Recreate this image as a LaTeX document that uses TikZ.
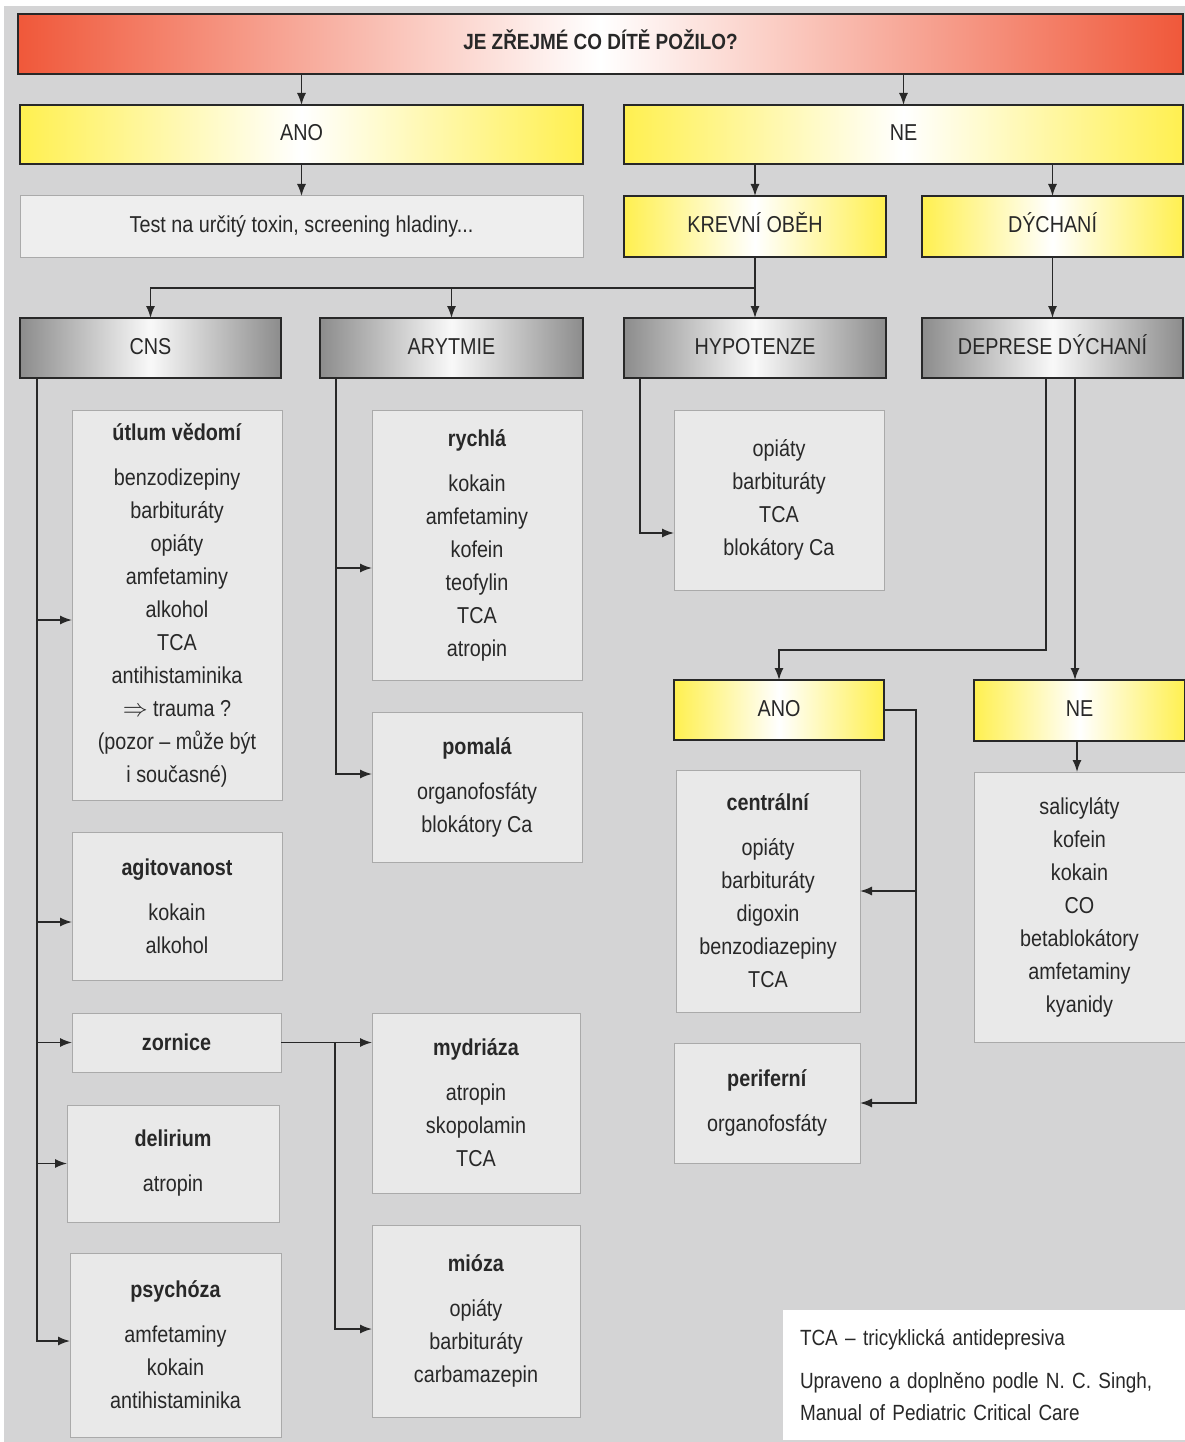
\documentclass[tikz,border=0pt]{standalone}
\usepackage{fontspec}
\setmainfont{Liberation Sans}[FakeStretch=0.86]
\usetikzlibrary{arrows.meta}
\definecolor{bg}{RGB}{212,212,213}
\definecolor{listfill}{RGB}{233,233,233}
\definecolor{testfill}{RGB}{238,238,238}
\definecolor{listdraw}{RGB}{170,170,170}
\definecolor{ink}{RGB}{40,40,40}
\definecolor{redE}{RGB}{240,88,58}
\definecolor{yelE}{RGB}{255,240,80}
\definecolor{grayE}{RGB}{140,140,140}
\begin{document}
\begin{tikzpicture}[x=1pt,y=-1pt,
  base/.style={inner sep=0pt,outer sep=0pt,align=center,text=ink,
    font=\fontsize{23}{33}\selectfont},
  hdr/.style={base,draw=ink,line width=1.4pt,text height=17pt,text depth=5pt},
  redbox/.style={hdr,left color=redE,right color=redE,middle color=white,
    font=\fontsize{22}{30}\selectfont\bfseries},
  yelbox/.style={hdr,left color=yelE,right color=yelE,middle color=white},
  graybox/.style={hdr,left color=grayE,right color=grayE,middle color=white!95!gray},
  listbox/.style={base,draw=listdraw,line width=1pt,fill=listfill},
  arr/.style={draw=ink,line width=1.5pt,-{Latex[length=12pt,width=9pt]}},
  ln/.style={draw=ink,line width=1.5pt}]
\useasboundingbox (0,0) rectangle (1185,1442);
\fill[white] (0,0) rectangle (1185,1442);
\fill[bg] (4,6) rectangle (1185,1442);

% top
\node[redbox,minimum width=1165,minimum height=60] (top) at (600.5,44) {JE ZŘEJMÉ CO DÍTĚ POŽILO?};
\node[yelbox,minimum width=563,minimum height=59] (ano) at (301.5,134.5) {ANO};
\node[yelbox,minimum width=559,minimum height=59] (ne) at (903.5,134.5) {NE};
\node[listbox,fill=testfill,minimum width=563,minimum height=61] (test) at (301.5,226.5) {Test na určitý toxin, screening hladiny...};
\node[yelbox,minimum width=262,minimum height=61] (krev) at (755,226.5) {KREVNÍ OBĚH};
\node[yelbox,minimum width=261,minimum height=61] (dych) at (1052.5,226.5) {DÝCHANÍ};

\node[graybox,minimum width=261,minimum height=60] (cns) at (150.5,348) {CNS};
\node[graybox,minimum width=263,minimum height=60] (aryt) at (451.5,348) {ARYTMIE};
\node[graybox,minimum width=262,minimum height=60] (hypo) at (755,348) {HYPOTENZE};
\node[graybox,minimum width=261,minimum height=60] (depr) at (1052.5,348) {DEPRESE DÝCHANÍ};

% CNS column
\node[listbox,minimum width=210,minimum height=390] (utlum) at (177,605)
 {\textbf{útlum vědomí}\\[12pt]benzodizepiny\\barbituráty\\opiáty\\amfetaminy\\alkohol\\TCA\\antihistaminika\\$\Rightarrow$ trauma ?\\(pozor – může být\\i současné)};
\node[listbox,minimum width=210,minimum height=148] (agit) at (177,906)
 {\textbf{agitovanost}\\[12pt]kokain\\alkohol};
\node[listbox,minimum width=209,minimum height=59] (zorn) at (176.5,1042.5) {\textbf{zornice}};
\node[listbox,minimum width=212,minimum height=117] (deli) at (173,1163.5)
 {\textbf{delirium}\\[12pt]atropin};
\node[listbox,minimum width=211,minimum height=184] (psych) at (175.5,1345)
 {\textbf{psychóza}\\[12pt]amfetaminy\\kokain\\antihistaminika};

% ARYTMIE column
\node[listbox,minimum width=210,minimum height=270] (rych) at (477,545)
 {\textbf{rychlá}\\[12pt]kokain\\amfetaminy\\kofein\\teofylin\\TCA\\atropin};
\node[listbox,minimum width=210,minimum height=150] (pom) at (477,787)
 {\textbf{pomalá}\\[12pt]organofosfáty\\blokátory Ca};
\node[listbox,minimum width=208,minimum height=180] (mydr) at (476,1103)
 {\textbf{mydriáza}\\[12pt]atropin\\skopolamin\\TCA};
\node[listbox,minimum width=208,minimum height=192] (mioz) at (476,1321)
 {\textbf{mióza}\\[12pt]opiáty\\barbituráty\\carbamazepin};

% HYPOTENZE / DEPRESE
\node[listbox,minimum width=210,minimum height=180] (hypl) at (779,500)
 {opiáty\\barbituráty\\TCA\\blokátory Ca};
\node[yelbox,minimum width=210,minimum height=60] (ano2) at (779,710) {ANO};
\node[yelbox,minimum width=211,minimum height=61] (ne2) at (1079.5,710.5) {NE};
\node[listbox,minimum width=184,minimum height=242] (centr) at (768,891)
 {\textbf{centrální}\\[12pt]opiáty\\barbituráty\\digoxin\\benzodiazepiny\\TCA};
\node[listbox,minimum width=186,minimum height=120] (perif) at (767,1103)
 {\textbf{periferní}\\[12pt]organofosfáty};
\node[listbox,minimum width=211,minimum height=270] (nel) at (1079.5,907)
 {salicyláty\\kofein\\kokain\\CO\\betablokátory\\amfetaminy\\kyanidy};

% legend
\node[base,fill=white,minimum width=402,minimum height=130,text width=368,align=left,
  font=\fontsize{22}{32}\selectfont] (leg) at (984,1375)
 {TCA – tricyklická antidepresiva\\[11pt]Upraveno a doplněno podle N. C. Singh,\\Manual of Pediatric Critical Care};

% connectors
\draw[arr] (ano.north |- top.south) -- (ano.north);
\draw[arr] (ne.north |- top.south) -- (ne.north);
\draw[arr] (ano.south) -- (test.north);
\draw[arr] (krev.north |- ne.south) -- (krev.north);
\draw[arr] (dych.north |- ne.south) -- (dych.north);
\draw[arr] (krev.south) -- ++(0,31) -| (cns.north);
\draw[arr] (krev.south) -- ++(0,31) -| (aryt.north);
\draw[arr] (krev.south) -- (hypo.north);
\draw[arr] (dych.south) -- (depr.north);

\draw[arr] ([xshift=17]cns.south west) |- ([yshift=-15]utlum.west);
\draw[arr] ([xshift=17]cns.south west) |- ([yshift=-16]agit.west);
\draw[arr] ([xshift=17]cns.south west) |- (zorn.west);
\draw[arr] ([xshift=17]cns.south west) |- (deli.west);
\draw[arr] ([xshift=17]cns.south west) |- ([yshift=4]psych.west);

\draw[arr] ([xshift=16]aryt.south west) |- ([yshift=-23]rych.west);
\draw[arr] ([xshift=16]aryt.south west) |- ([yshift=13]pom.west);

\coordinate (zj) at (335,1042.5);
\draw[arr] (zorn.east) -- (zorn.east -| mydr.west);
\draw[arr] (zj) |- ([yshift=-8]mioz.west);

\draw[arr] ([xshift=16]hypo.south west) |- ([yshift=-33]hypl.west);

\draw[arr] ([xshift=124]depr.south west) -- ++(0,272) -| (ano2.north);
\draw[arr] ([xshift=153]depr.south west) -- (ne2.north -| 1075,0);
\draw[arr] (ano2.east) -- ++(32,0) |- (centr.east);
\draw[arr] (ano2.east) -- ++(32,0) |- (perif.east);
\draw[arr] (ne2.south -| 1077,0) -- (nel.north -| 1077,0);
\end{tikzpicture}
\end{document}
